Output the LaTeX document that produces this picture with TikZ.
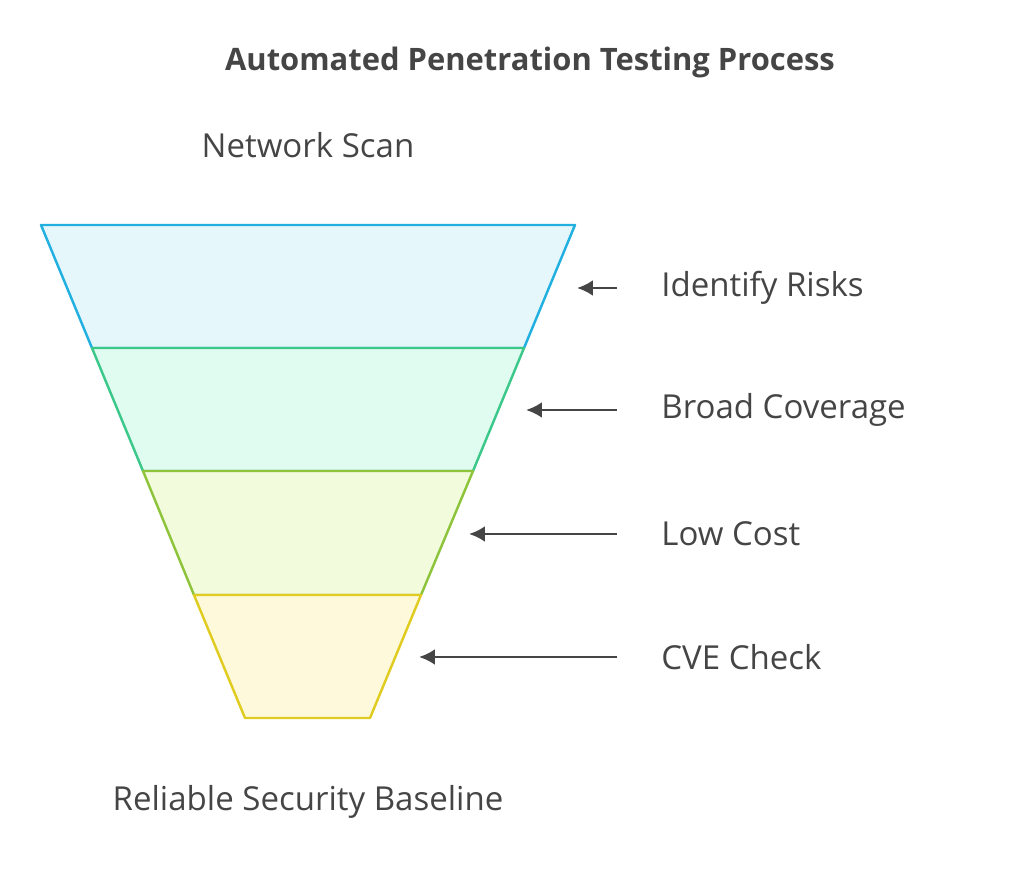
\documentclass[tikz,border=0pt]{standalone}
\usepackage{fontspec}
\setmainfont{Open Sans}
\usetikzlibrary{positioning,arrows.meta}
\definecolor{txtgray}{HTML}{454545}
\definecolor{bandAline}{HTML}{22B0E0}
\definecolor{bandAfill}{HTML}{E6F7FC}
\definecolor{bandBline}{HTML}{3CC88A}
\definecolor{bandBfill}{HTML}{E0FCF0}
\definecolor{bandCline}{HTML}{8DC43C}
\definecolor{bandCfill}{HTML}{F2FCDD}
\definecolor{bandDline}{HTML}{E0CC20}
\definecolor{bandDfill}{HTML}{FFF9DC}
\begin{document}
\begin{tikzpicture}[
    x=0.02cm, y=-0.02cm,
    band/.style={line width=1.4pt, line join=round},
    lbl/.style={anchor=west, text=txtgray, font=\fontsize{18.8}{22}\selectfont, inner sep=0pt},
    endlbl/.style={text=txtgray, font=\fontsize{18.8}{22}\selectfont, inner sep=0pt},
    pointer/.style={draw=txtgray, line width=1.6pt, -{Latex[length=9pt,width=9pt]}}
]
\useasboundingbox (0,0) rectangle (1024,871);
\node[text=txtgray, font=\bfseries\fontsize{17.6}{21}\selectfont] (title) at (530,62) {Automated Penetration Testing Process};
\node[endlbl] (top) at (308,145) {Network Scan};
\node[endlbl] (bottom) at (308,802) {Reliable Security Baseline};
% funnel bands
\draw[band, draw=bandAline, fill=bandAfill] (41,225) -- (575,225) -- (524,348) -- (92,348) -- cycle;
\draw[band, draw=bandBline, fill=bandBfill] (92,348) -- (524,348) -- (473,471) -- (143,471) -- cycle;
\draw[band, draw=bandCline, fill=bandCfill] (143,471) -- (473,471) -- (421,595) -- (194,595) -- cycle;
\draw[band, draw=bandDline, fill=bandDfill] (194,595) -- (421,595) -- (370,718) -- (245,718) -- cycle;
% labels and pointers
\node[lbl] (risks) at (661,288) {Identify Risks};
\node[lbl] (coverage) at (661,410) {Broad Coverage};
\node[lbl] (cost) at (661,534) {Low Cost};
\node[lbl] (cve) at (661,657) {CVE Check};
\coordinate (risksTip) at (577,288);
\coordinate (coverageTip) at (526,410);
\coordinate (costTip) at (469,534);
\coordinate (cveTip) at (419,657);
\foreach \n in {risks,coverage,cost,cve}
  \draw[pointer] ([xshift=-44*0.02cm]\n.west) -- (\n Tip);
\end{tikzpicture}
\end{document}
